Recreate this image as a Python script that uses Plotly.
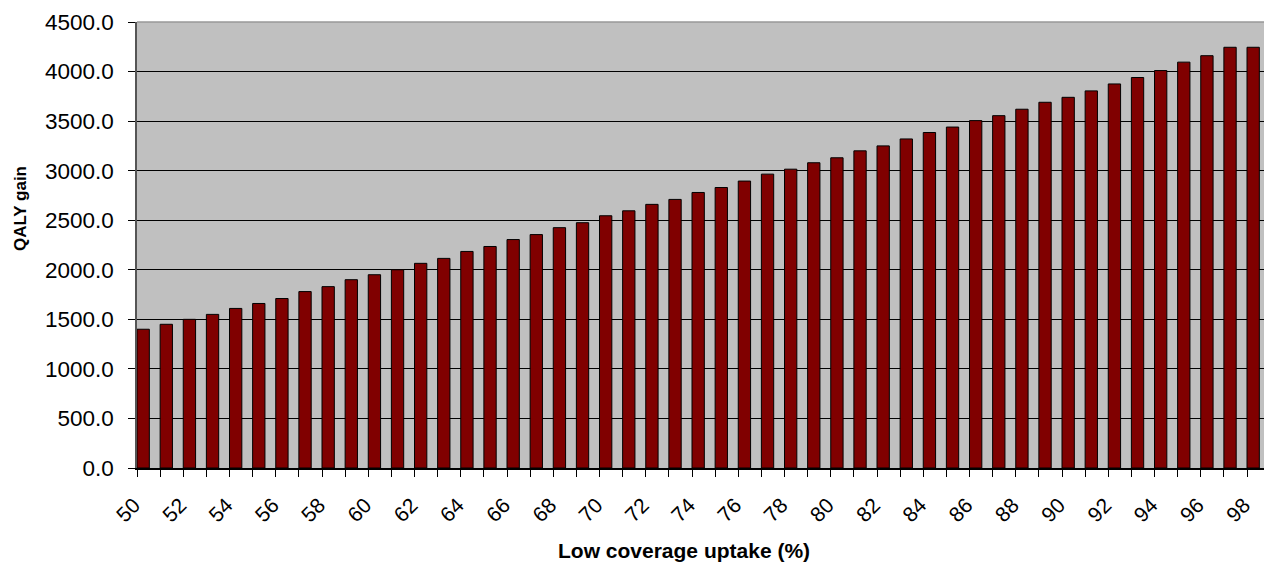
import plotly.graph_objects as go

# Low coverage uptake (%) and the QALY gain at each level
uptake = list(range(50, 99))
qaly_gain = [
    1400, 1450, 1500, 1550, 1610, 1660, 1710, 1780, 1830, 1900,
    1950, 2000, 2065, 2115, 2185, 2235, 2305, 2355, 2425, 2475,
    2545, 2595, 2660, 2710, 2780, 2830, 2895, 2965, 3015, 3080,
    3130, 3200, 3250, 3320, 3385, 3440, 3505, 3555, 3620, 3690,
    3740, 3805, 3875, 3940, 4010, 4095, 4160, 4245, 4245,
]
x_labels = list(range(50, 99, 2))
y_ticks = list(range(0, 4501, 500))

FONT = "Arial, Liberation Sans, sans-serif"
BAR_W = 0.533  # bars sit at the left of each category slot

fig = go.Figure(
    go.Bar(
        x=uptake,
        y=qaly_gain,
        width=BAR_W,
        offset=0,
        marker=dict(color="#800000", line=dict(color="#000000", width=1)),
    )
)

fig.update_layout(
    width=1264,
    height=567,
    margin=dict(l=137, r=0, t=22, b=99),
    paper_bgcolor="white",
    plot_bgcolor="#C0C0C0",
    showlegend=False,
    font=dict(family=FONT, color="#000000"),
    shapes=[
        dict(type="line", xref="paper", yref="paper", x0=0, x1=1, y0=1, y1=1,
             line=dict(color="#999999", width=1.5)),
    ],
    annotations=[
        dict(text="<b>QALY gain</b>", textangle=-90, showarrow=False,
             xref="paper", yref="paper", x=-0.1038, y=0.5807,
             xanchor="center", yanchor="middle",
             font=dict(size=17, family=FONT)),
        dict(text="<b>Low coverage uptake (%)</b>", showarrow=False,
             xref="paper", yref="paper", x=0.4854, y=-0.186,
             xanchor="center", yanchor="middle",
             font=dict(size=21, family=FONT)),
    ],
)

fig.update_xaxes(
    range=[50, 98.735],
    tickvals=[v + BAR_W / 2 for v in x_labels],
    ticktext=[str(v) for v in x_labels],
    tickangle=-45,
    ticks="outside",
    ticklen=0,
    ticklabelstandoff=15,
    ticklabelshift=-9,
    minor=dict(tick0=50, dtick=1, ticks="outside", ticklen=7,
               tickcolor="#000000", showgrid=False),
    tickfont=dict(size=21, family=FONT),
    showgrid=False,
    showline=True,
    linecolor="#000000",
    linewidth=1.5,
    zeroline=False,
)

fig.update_yaxes(
    range=[0, 4500],
    tickvals=y_ticks,
    tickformat=".1f",
    ticks="outside",
    ticklen=7,
    tickcolor="#000000",
    ticklabelstandoff=10,
    tickfont=dict(size=22.5, family=FONT),
    showgrid=True,
    gridcolor="#000000",
    gridwidth=1,
    showline=True,
    linecolor="#555555",
    linewidth=1.5,
    zeroline=False,
)

fig.write_html("out.html")
